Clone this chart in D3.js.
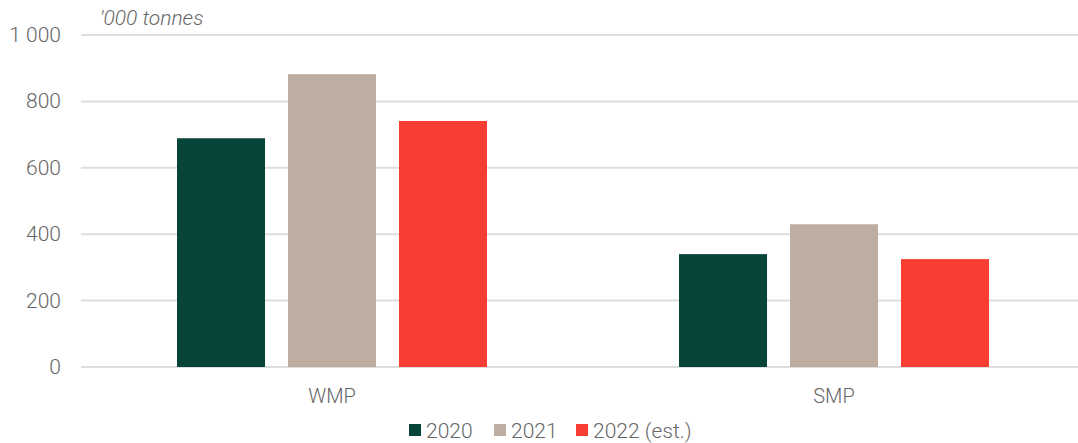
<!DOCTYPE html>
<html><head><meta charset="utf-8">
<script src="https://cdn.jsdelivr.net/npm/d3@7"></script>
<style>
body{margin:0;background:#fff;}
text{font-family:Roboto,"Open Sans",sans-serif;font-weight:300;fill:#666;}
</style></head>
<body><svg id="c" width="1078" height="443"></svg>
<script>
const categories = ["WMP","SMP"];
const seriesNames = ["2020","2021","2022 (est.)"];
const values2020 = [689, 340];
const values2021 = [882, 430];
const values2022 = [741, 325];
const yTicks = [0,200,400,600,800,1000];
const colors = ["#07453A","#BEADA1","#F83D32"];
const unitLabel = "'000 tonnes";

const series = [values2020, values2021, values2022];
const svg = d3.select("#c");
const x0 = d3.scaleBand().domain(categories).range([81,1085]).padding(0);
const x1 = d3.scaleBand().domain(seriesNames).range([0,x0.bandwidth()]).paddingInner(0.207).paddingOuter(0.865);
const y = d3.scaleLinear().domain([0,1000]).range([367,35]);

svg.append("g").selectAll("line").data(yTicks).join("line")
  .attr("x1",81).attr("x2",1078).attr("y1",d=>y(d)).attr("y2",d=>y(d))
  .attr("stroke","#dedede").attr("stroke-width",2);

const fmt = d => d>=1000 ? d3.format(",")(d).replace(","," ") : String(d);
svg.append("g").selectAll("text").data(yTicks).join("text")
  .attr("x",61).attr("y",d=>y(d)+7).attr("text-anchor","end")
  .attr("font-size",21).text(fmt);

svg.append("text").attr("x",100).attr("y",25).attr("font-size",21)
  .attr("font-style","italic").text(unitLabel);

const g = svg.append("g");
categories.forEach((c,ci)=>{
  seriesNames.forEach((s,si)=>{
    g.append("rect").attr("x",x0(c)+x1(s)).attr("width",x1.bandwidth())
      .attr("y",y(series[si][ci])).attr("height",y(0)-y(series[si][ci]))
      .attr("fill",colors[si]);
  });
});

svg.append("g").selectAll("text").data(categories).join("text")
  .attr("x",d=>x0(d)+x0.bandwidth()/2).attr("y",403).attr("text-anchor","middle")
  .attr("font-size",20).text(d=>d);

const legX = [409, 494, 576];
const leg = svg.append("g");
seriesNames.forEach((s,i)=>{
  leg.append("rect").attr("x",legX[i]).attr("y",424).attr("width",12).attr("height",12).attr("fill",colors[i]);
  leg.append("text").attr("x",legX[i]+17).attr("y",438).attr("font-size",21).text(s);
});
</script></body></html>
